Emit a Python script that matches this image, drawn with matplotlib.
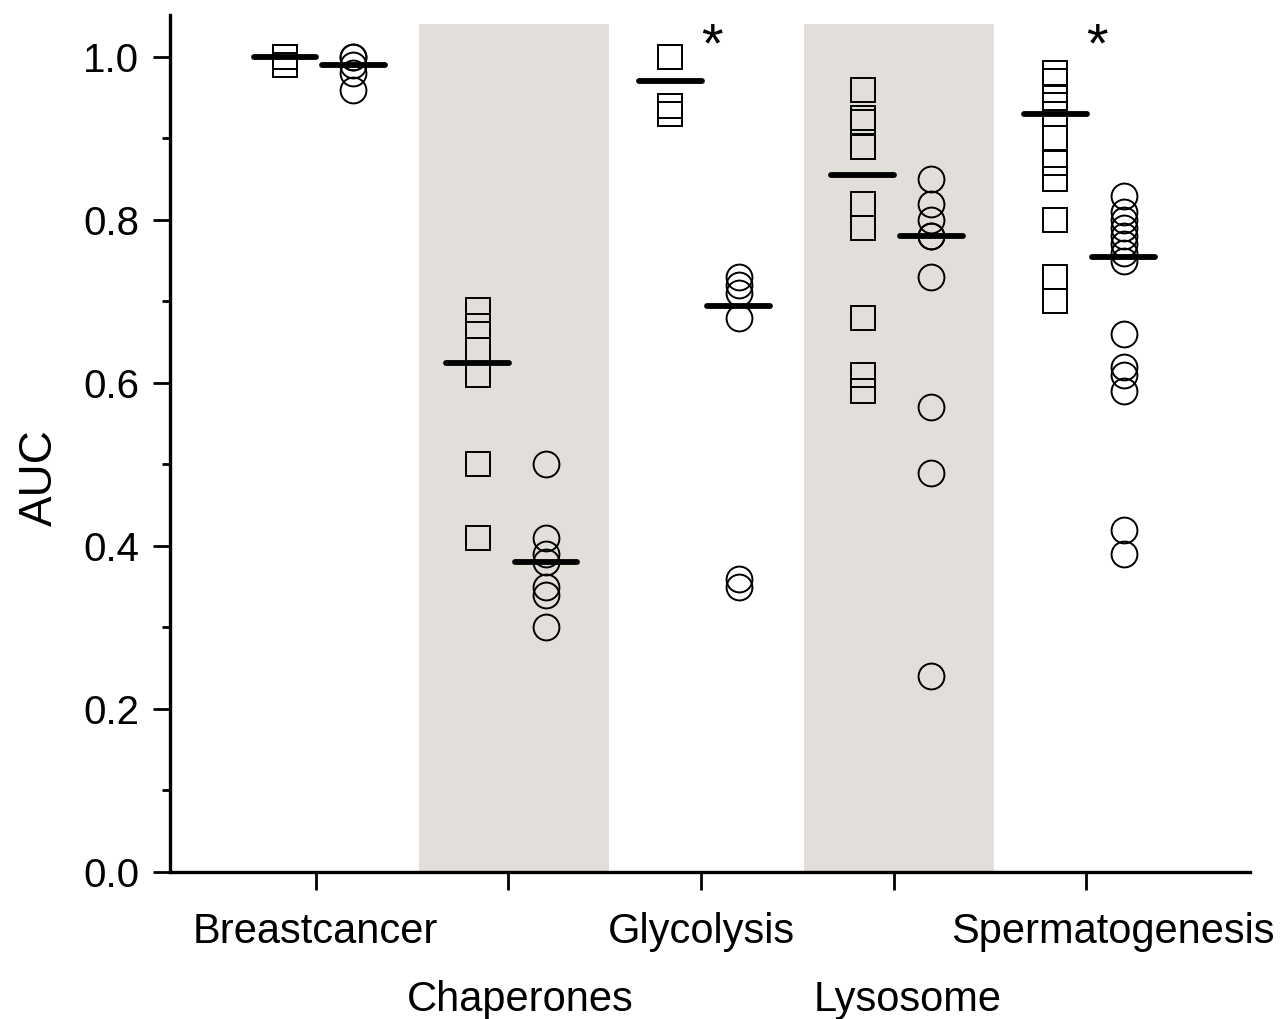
import numpy as np
import matplotlib
matplotlib.use('Agg')
import matplotlib.pyplot as plt
from matplotlib.ticker import MultipleLocator, FormatStrFormatter

plt.rcParams['font.family'] = ['Liberation Sans', 'DejaVu Sans']

# categories along the x axis, and which ones get a grey band
categories = ['Breastcancer', 'Chaperones', 'Glycolysis', 'Lysosome', 'Spermatogenesis']
shaded = ['Chaperones', 'Lysosome']
significant = ['Glycolysis', 'Spermatogenesis']

# AUC values (squares = first method, circles = second)
square_auc = [
    [1.00, 1.00, 0.99],
    [0.69, 0.67, 0.64, 0.61, 0.50, 0.41],
    [1.00, 1.00, 0.94, 0.93],
    [0.96, 0.925, 0.92, 0.89, 0.89, 0.82, 0.79, 0.68, 0.61, 0.59],
    [0.98, 0.97, 0.95, 0.93, 0.93, 0.93, 0.93, 0.90, 0.87, 0.85, 0.80, 0.73, 0.70],
]
circle_auc = [
    [1.00, 1.00, 0.99, 0.98, 0.96],
    [0.50, 0.41, 0.39, 0.38, 0.35, 0.34, 0.30],
    [0.73, 0.72, 0.71, 0.68, 0.36, 0.35],
    [0.85, 0.82, 0.80, 0.78, 0.78, 0.73, 0.57, 0.49, 0.24],
    [0.83, 0.81, 0.80, 0.79, 0.78, 0.77, 0.76, 0.75, 0.66, 0.62, 0.61, 0.59, 0.42, 0.39],
]

fig = plt.figure(figsize=(12.81, 10.19), dpi=100)
ax = fig.add_axes([0.1327, 0.1443, 0.8431, 0.8410])

xpos = np.arange(1, len(categories) + 1)
shade = '#e2dfdb'

for x, name in zip(xpos, categories):
    if name in shaded:
        ax.bar(x + 0.029, 1.04, width=0.986, color=shade, zorder=0)

sq_off, ci_off, half = -0.16, 0.195, 0.163
for x, sq, ci in zip(xpos, square_auc, circle_auc):
    ax.plot(np.full(len(sq), x + sq_off), sq, 's', ms=16.8, mfc='none',
            mec='black', mew=1.4, zorder=2)
    ax.plot(np.full(len(ci), x + ci_off), ci, 'o', ms=18.6, mfc='none',
            mec='black', mew=1.4, zorder=2)
    # median bar on top of each group
    for off, vals in ((sq_off, sq), (ci_off, ci)):
        m = np.median(vals)
        ax.plot([x + off - half, x + off + half], [m, m], color='black',
                lw=4.2, solid_capstyle='round', zorder=3)

for x, name in zip(xpos, categories):
    if name in significant:
        ax.text(x + 0.055, 0.995, '*', fontsize=40, ha='center', va='baseline')

ax.set_xlim(0.243, 5.85)
ax.set_ylim(0, 1.0515)

ax.spines['top'].set_visible(False)
ax.spines['right'].set_visible(False)
ax.spines['left'].set_linewidth(2.4)
ax.spines['bottom'].set_linewidth(2.4)

ax.yaxis.set_major_locator(MultipleLocator(0.2))
ax.yaxis.set_minor_locator(MultipleLocator(0.1))
ax.yaxis.set_major_formatter(FormatStrFormatter('%.1f'))
ax.tick_params(axis='y', which='major', direction='out', length=12, width=2,
               labelsize=29, pad=10)
ax.tick_params(axis='y', which='minor', direction='out', length=6, width=2)

ax.set_xticks(xpos)
ax.set_xticklabels([])
ax.tick_params(axis='x', direction='out', length=13, width=2)

# staggered category labels under the ticks
label_dx = [0, 12, 0, 14, 27]
label_dy = [-71, -139, -71, -139, -71]
for x, name, dx, dy in zip(xpos, categories, label_dx, label_dy):
    ax.annotate(name, xy=(x, 0), xycoords=('data', 'axes fraction'),
                xytext=(dx * 0.72, dy * 0.72), textcoords='offset points',
                ha='center', va='baseline', fontsize=30, annotation_clip=False)

ax.set_ylabel('AUC', fontsize=33)
ax.yaxis.set_label_coords(-0.1, 0.46)

fig.savefig('out.png', dpi=100)
